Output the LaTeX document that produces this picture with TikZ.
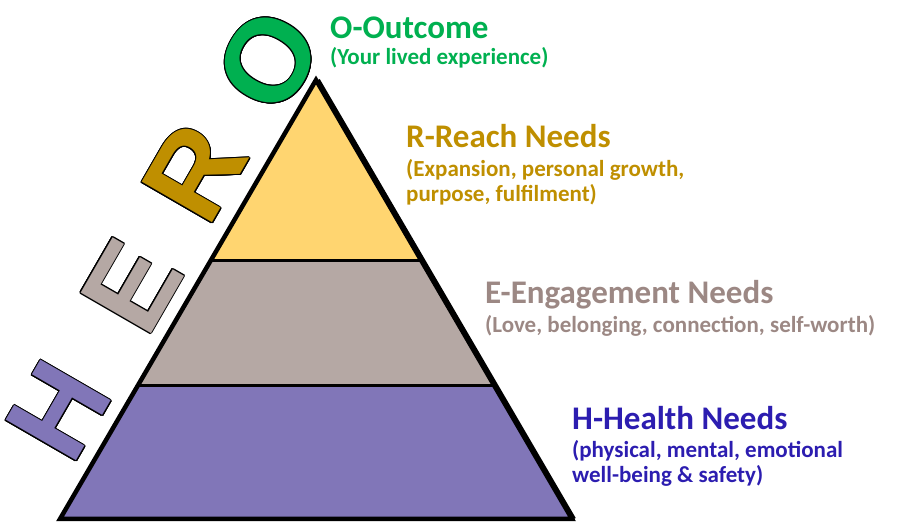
\documentclass[tikz,border=0pt]{standalone}
\usepackage{fontspec}
\setmainfont{Carlito}
\newfontfamily\herofont{Liberation Sans}
\usepackage{contour}
\contourlength{1pt}
\usetikzlibrary{calc}
\definecolor{outcomegreen}{HTML}{00B050}
\definecolor{reachgold}{HTML}{BF8F00}
\definecolor{reachfill}{HTML}{FFD570}
\definecolor{engagefill}{HTML}{B5A8A4}
\definecolor{engagetext}{HTML}{9C8884}
\definecolor{healthfill}{HTML}{8176B8}
\definecolor{healthtext}{HTML}{2C1DB0}

\begin{document}
\begin{tikzpicture}[x=1pt, y=1pt]
	\tikzset{
		heroletter/.style= {rotate=60, inner sep=0pt, font=\herofont\bfseries\fontsize{118}{118}\selectfont},
		ttl/.style= {anchor=base west, inner sep=0pt, font=\bfseries\fontsize{33}{38}\selectfont},
		sub/.style= {anchor=base west, inner sep=0pt, align=left, font=\bfseries\fontsize{23}{25}\selectfont},
	}
	\useasboundingbox (0,0) rectangle (898,526);
	
	\coordinate (apex) at (316,446);
	\coordinate (bl) at (60,7);
	\coordinate (br) at (572,7);
	\coordinate (l1) at ($(apex)!0.412!(bl)$);
	\coordinate (r1) at ($(apex)!0.412!(br)$);
	\coordinate (l2) at ($(apex)!0.697!(bl)$);
	\coordinate (r2) at ($(apex)!0.697!(br)$);
	
	\fill[reachfill] (apex) -- (l1) -- (r1) -- cycle;
	\fill[engagefill] (l1) -- (l2) -- (r2) -- (r1) -- cycle;
	\fill[healthfill] (l2) -- (bl) -- (br) -- (r2) -- cycle;
	\draw[line width=3pt] (l1) -- (r1) (l2) -- (r2);
	\draw[line width=4.5pt, line join=miter] (apex) -- (bl) -- (br) -- cycle;
	\draw[line width=4pt] ([xshift=2pt]apex) -- ([xshift=2pt]br);
	
	\node[heroletter, text=healthfill] (h) at (59,115) {\contour{black}{H}};
	\node[heroletter, text=engagefill] (e) at (132,240) {\contour{black}{E}};
	\node[heroletter, text=reachgold] (r) at (195,353) {\contour{black}{R}};
	\node[heroletter, text=outcomegreen] (o) at (269,465) {\contour{black}{O}};
	
	\node[ttl, text=outcomegreen] (otitle) at (330,487) {O-Outcome};
	\node[sub, text=outcomegreen] (osub) at (330,461) {(Your lived experience)};
	\node[ttl, text=reachgold] (rtitle) at (406,378) {R-Reach Needs};
	\node[sub, text=reachgold] (rsub) at (406,324) {(Expansion, personal growth,\\purpose, fulfilment)};
	\node[ttl, text=engagetext] (etitle) at (485,222) {E-Engagement Needs};
	\node[sub, text=engagetext] (esub) at (485,193) {(Love, belonging, connection, self-worth)};
	\node[ttl, text=healthtext] (htitle) at (572,96) {H-Health Needs};
	\node[sub, text=healthtext] (hsub) at (572,43) {(physical, mental, emotional\\well-being \& safety)};
\end{tikzpicture}
\end{document}
